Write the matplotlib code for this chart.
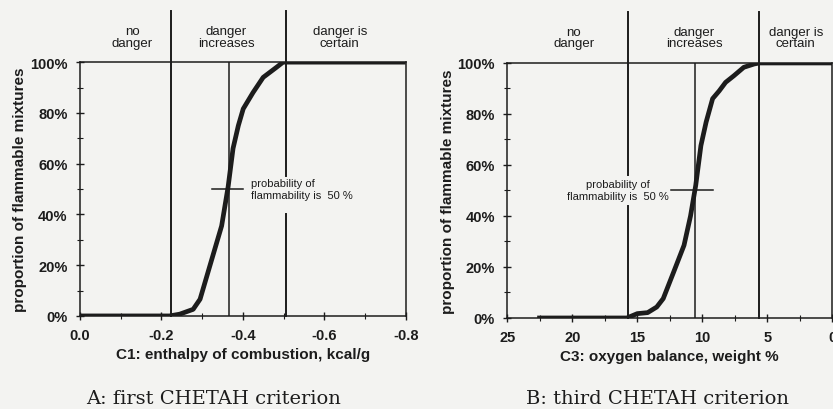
import matplotlib.pyplot as plt
from matplotlib.ticker import FixedLocator, MultipleLocator

# Panel A: C1 enthalpy of combustion (kcal/g) vs proportion flammable (%)
c1_x = [0.0, -0.22, -0.245, -0.278, -0.295, -0.319, -0.348, -0.364, -0.376,
        -0.389, -0.401, -0.425, -0.45, -0.483, -0.499, -0.8]
c1_y = [0, 0, 0.7, 2.6, 6.6, 19.7, 35.5, 51, 66, 75, 81.6, 88, 94, 98, 100, 100]
c1_bounds = [-0.223, -0.366, -0.505]   # no danger | increases | certain
c1_ticks = [0.0, -0.2, -0.4, -0.6, -0.8]

# Panel B: C3 oxygen balance (weight %) vs proportion flammable (%)
c3_x = [22.7, 15.8, 15.0, 14.2, 13.5, 13.0, 12.2, 11.4, 10.9, 10.5, 10.1,
        9.7, 9.2, 8.7, 8.2, 7.56, 6.8, 6.0, 5.6, 0.0]
c3_y = [0, 0, 1.7, 2.1, 4.3, 7.6, 18, 28.5, 40, 52, 67.6, 76.8, 86, 89,
        92.4, 95, 98.3, 99.6, 100, 100]
c3_bounds = [15.7, 10.56, 5.64]
c3_ticks = [25, 20, 15, 10, 5, 0]

zones = ["no\ndanger", "danger\nincreases", "danger is\ncertain"]
y_ticks = [0, 20, 40, 60, 80, 100]
prob_label = "probability of\nflammability is  50 %"

INK = "#1c1c1c"
BG = "#f3f3f1"
SANS = "Liberation Sans"

fig = plt.figure(figsize=(8.33, 4.10), dpi=100, facecolor=BG)
axA = fig.add_axes([0.096, 0.227, 0.391, 0.619])
axB = fig.add_axes([0.609, 0.222, 0.390, 0.622])


def style(ax, xlim, xticks, xminor, xfmt, xlabel):
    ax.set_facecolor("none")
    ax.set_xlim(*xlim)
    ax.set_ylim(0, 100)
    ax.xaxis.set_major_locator(FixedLocator(xticks))
    ax.xaxis.set_minor_locator(MultipleLocator(xminor))
    ax.set_xticklabels([xfmt(t) for t in xticks])
    ax.yaxis.set_major_locator(FixedLocator(y_ticks))
    ax.yaxis.set_minor_locator(MultipleLocator(10))
    ax.set_yticklabels([f"{t}%" for t in y_ticks])
    ax.tick_params(which="major", direction="inout", length=6, width=1,
                   color=INK, labelcolor=INK, labelsize=10.5, pad=6)
    ax.tick_params(which="minor", direction="inout", length=4, width=0.8,
                   color=INK)
    for lab in ax.get_xticklabels() + ax.get_yticklabels():
        lab.set_fontfamily(SANS)
        lab.set_fontweight("bold")
    for s in ax.spines.values():
        s.set_color(INK)
        s.set_linewidth(1.1)
    ax.set_xlabel(xlabel, fontfamily=SANS, fontweight="bold", fontsize=11,
                  color=INK, labelpad=3)
    ax.set_ylabel("proportion of flammable mixtures", fontfamily=SANS,
                  fontweight="bold", fontsize=11, color=INK, labelpad=2)


style(axA, (0.0, -0.8), c1_ticks, 0.1, lambda t: f"{t:.1f}",
      "C1: enthalpy of combustion, kcal/g")
style(axB, (25, 0), c3_ticks, 2.5, lambda t: f"{t}",
      "C3: oxygen balance, weight %")

# Panel A
axA.plot(c1_x, c1_y, color=INK, lw=3.4, solid_capstyle="butt", zorder=4)
lo, mid, hi = c1_bounds
axA.plot([lo, lo], [0, 120], color=INK, lw=1.4, clip_on=False)
axA.plot([mid, mid], [0, 100], color=INK, lw=1.1)
axA.plot([hi, hi], [0, 40], color=INK, lw=1.4, clip_on=False)
axA.plot([hi, hi], [55, 120], color=INK, lw=1.4, clip_on=False)
axA.plot([-0.324, -0.40], [50, 50], color=INK, lw=1.1)
axA.text(-0.42, 50, prob_label, fontfamily=SANS, fontsize=8, color=INK,
         ha="left", va="center", linespacing=1.25)
for xc, z in zip([-0.128, -0.36, -0.638], zones):
    axA.text(xc, 110, z, fontfamily=SANS, fontsize=9.5, color=INK,
             ha="center", va="center", linespacing=0.95, clip_on=False)

# Panel B
axB.plot(c3_x, c3_y, color=INK, lw=3.4, solid_capstyle="butt", zorder=4)
lo, mid, hi = c3_bounds
axB.plot([lo, lo], [0, 44], color=INK, lw=1.4, clip_on=False)
axB.plot([lo, lo], [56, 120], color=INK, lw=1.4, clip_on=False)
axB.plot([mid, mid], [0, 100], color=INK, lw=1.1)
axB.plot([hi, hi], [0, 120], color=INK, lw=1.4, clip_on=False)
axB.plot([12.4, 9.2], [50, 50], color=INK, lw=1.1)
axB.text(12.56, 50, prob_label, fontfamily=SANS, fontsize=8, color=INK,
         ha="right", va="center", linespacing=1.25, multialignment="center")
for xc, z in zip([19.9, 10.6, 2.8], zones):
    axB.text(xc, 110, z, fontfamily=SANS, fontsize=9.5, color=INK,
             ha="center", va="center", linespacing=0.95, clip_on=False)

fig.text(0.256, 0.028, "A: first CHETAH criterion", fontfamily="DejaVu Serif",
         fontsize=14, color=INK, ha="center", va="center")
fig.text(0.789, 0.028, "B: third CHETAH criterion", fontfamily="DejaVu Serif",
         fontsize=14, color=INK, ha="center", va="center")

fig.savefig("out.png", dpi=100, facecolor=BG)
